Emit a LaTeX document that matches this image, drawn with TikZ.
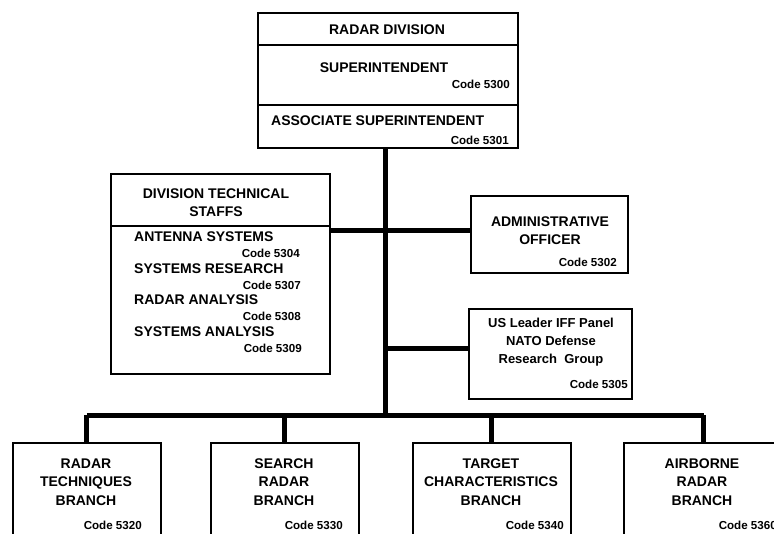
\documentclass[tikz,border=0pt]{standalone}
\usepackage{fontspec}
\setmainfont{Liberation Sans}
\begin{document}
\begin{tikzpicture}[x=1pt,y=-1pt,
  box/.style={draw=black,line width=1.6pt,rectangle,inner sep=0pt,anchor=north west},
  conn/.style={line width=5pt,black},
  txt/.style={inner sep=0pt,font=\fontsize{14}{18}\selectfont\bfseries,align=center},
  ltxt/.style={txt,anchor=west},
  code/.style={inner sep=0pt,font=\fontsize{11.6}{13}\selectfont\bfseries,anchor=east}]
\clip (0,0) rectangle (774,533);
\fill[white] (0,0) rectangle (774,533);
% boxes
\node[box,minimum width=260pt,minimum height=135pt] (top) at (257,12) {};
\draw[line width=1.6pt] (257,45) -- (517,45);
\draw[line width=1.6pt] (257,105) -- (517,105);
\node[box,minimum width=219pt,minimum height=200pt] (dts) at (110,173) {};
\draw[line width=1.6pt] (110,226) -- (329,226);
\node[box,minimum width=157pt,minimum height=77pt] (admin) at (470,195) {};
\node[box,minimum width=163pt,minimum height=90pt] (iff) at (468,308) {};
\node[box,minimum width=148pt,minimum height=110pt] (b1) at (12,442) {};
\node[box,minimum width=148pt,minimum height=110pt] (b2) at (210,442) {};
\node[box,minimum width=158pt,minimum height=110pt] (b3) at (412,442) {};
\node[box,minimum width=160pt,minimum height=110pt] (b4) at (623,442) {};
% coordinates
\coordinate (bus) at (385,415);
\coordinate (trunktop) at (385,147);
\coordinate (adminbar) at (385,230);
\coordinate (iffbar) at (385,348);
% connectors
\draw[conn] (trunktop) -- (bus);
\draw[conn] (dts.east |- adminbar) -- (admin.west |- adminbar);
\draw[conn] (iffbar) -- (iff.west |- iffbar);
\draw[conn] (b1.north |- bus) -- (b4.north |- bus);
\draw[conn] (b1.north |- bus) -- (b1.north);
\draw[conn] (b2.north |- bus) -- (b2.north);
\draw[conn] (b3.north |- bus) -- (b3.north);
\draw[conn] (b4.north |- bus) -- (b4.north);
% top texts
\node[txt] (rd) at (387,30) {RADAR DIVISION};
\node[txt] (sup) at (384,68) {SUPERINTENDENT};
\node[code] (c5300) at (510,84) {Code 5300};
\node[ltxt] (asup) at (271,121) {ASSOCIATE SUPERINTENDENT};
\node[code] (c5301) at (509,140) {Code 5301};
% dts texts
\node[txt] (dtsh) at (216,203) {DIVISION TECHNICAL\\STAFFS};
\node[ltxt] (ant) at (134,237) {ANTENNA SYSTEMS};
\node[code] (c5304) at (300,253) {Code 5304};
\node[ltxt] (sr) at (134,269) {SYSTEMS RESEARCH};
\node[code] (c5307) at (301,285) {Code 5307};
\node[ltxt] (ra) at (134,300) {RADAR ANALYSIS};
\node[code] (c5308) at (301,316) {Code 5308};
\node[ltxt] (sa) at (134,332) {SYSTEMS ANALYSIS};
\node[code] (c5309) at (302,348) {Code 5309};
% admin texts
\node[txt] (admt) at (550,231) {ADMINISTRATIVE\\OFFICER};
\node[code] (c5302) at (617,262) {Code 5302};
% iff texts
\node[txt,font=\fontsize{13}{18}\selectfont\bfseries] (ifft) at (551,342) {US Leader IFF Panel\\NATO Defense\\Research\ \ Group};
\node[code] (c5305) at (628,384) {Code 5305};
% bottom texts
\node[txt,font=\fontsize{14}{18.5}\selectfont\bfseries] (b1t) at (86,482) {RADAR\\TECHNIQUES\\BRANCH};
\node[code] (c5320) at (142,525) {Code 5320};
\node[txt,font=\fontsize{14}{18.5}\selectfont\bfseries] (b2t) at (284,482) {SEARCH\\RADAR\\BRANCH};
\node[code] (c5330) at (343,525) {Code 5330};
\node[txt,font=\fontsize{14}{18.5}\selectfont\bfseries] (b3t) at (491,482) {TARGET\\CHARACTERISTICS\\BRANCH};
\node[code] (c5340) at (564,525) {Code 5340};
\node[txt,font=\fontsize{14}{18.5}\selectfont\bfseries] (b4t) at (702,482) {AIRBORNE\\RADAR\\BRANCH};
\node[code] (c5360) at (777,525) {Code 5360};
\end{tikzpicture}
\end{document}
